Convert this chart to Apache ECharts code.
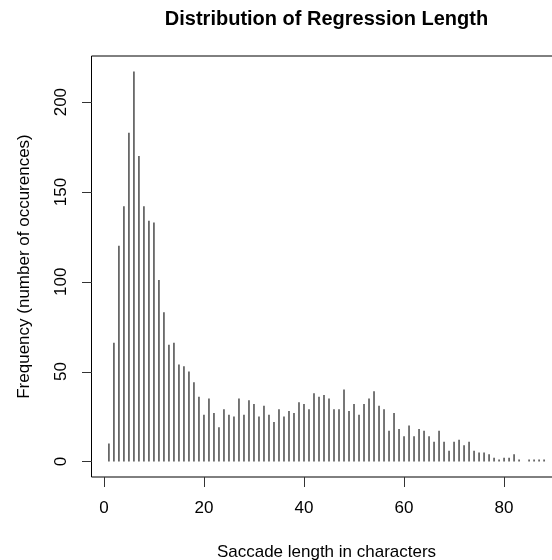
<!DOCTYPE html>
<html>
<head>
<meta charset="utf-8">
<script src="https://cdn.jsdelivr.net/npm/echarts@6/dist/echarts.min.js"></script>
<style>
html,body{margin:0;padding:0;background:#fff;}
#chart{width:552px;height:560px;}
</style>
</head>
<body>
<div id="chart"></div>
<script>
const lengths = [1,2,3,4,5,6,7,8,9,10,11,12,13,14,15,16,17,18,19,20,
  21,22,23,24,25,26,27,28,29,30,31,32,33,34,35,36,37,38,39,40,
  41,42,43,44,45,46,47,48,49,50,51,52,53,54,55,56,57,58,59,60,
  61,62,63,64,65,66,67,68,69,70,71,72,73,74,75,76,77,78,79,80,
  81,82,83,85,86,87,88];
const frequencies = [10,66,120,142,183,217,170,142,134,133,101,83,65,66,54,53,50,44,36,26,
  35,27,19,29,26,25,35,26,34,32,25,31,26,22,29,25,28,27,33,32,
  29,38,36,37,35,29,29,40,28,32,26,32,35,39,31,29,17,27,18,14,
  20,14,18,17,14,11,17,11,6,11,12,9,11,6,5,5,4,2,1,2,
  2,4,1,1,1,1,1];
const xTicks = [0,20,40,60,80];
const yTicks = [0,50,100,150,200];
const titleText = 'Distribution of Regression Length';
const xTitle = 'Saccade length in characters';
const yTitle = 'Frequency (number of occurences)';

const X_MIN = -2.48, X_MAX = 91.48, Y_MIN = -8.68, Y_MAX = 225.68;
const GRID = {left: 91.5, top: 56, right: -9.5, bottom: 83};
const W = 552, H = 560;
const TICK_LEN = 10;
const FONT = "'Liberation Sans', Arial, Helvetica, sans-serif";
const chart = echarts.init(document.getElementById('chart'), null, {renderer:'canvas', width: W, height: H});

function toPxX(v) {
  let r;
  try { r = chart.convertToPixel({xAxisIndex: 0}, v); } catch (e) { r = NaN; }
  if (Array.isArray(r)) r = r[0];
  if (!isFinite(r)) {
    const w = W - GRID.left - GRID.right;
    r = GRID.left + (v - X_MIN) / (X_MAX - X_MIN) * w;
  }
  return r;
}
function toPxY(v) {
  let r;
  try { r = chart.convertToPixel({yAxisIndex: 0}, v); } catch (e) { r = NaN; }
  if (Array.isArray(r)) r = r[1];
  if (!isFinite(r)) {
    const h = H - GRID.top - GRID.bottom;
    r = GRID.top + (Y_MAX - v) / (Y_MAX - Y_MIN) * h;
  }
  return r;
}

chart.setOption({
  animation: false,
  backgroundColor: '#fff',
  title: {
    text: titleText, left: 326.5, top: 9, padding: 0, textAlign: 'center',
    textStyle: {fontFamily: FONT, fontWeight: 'bold', fontSize: 20, color: '#000'}
  },
  grid: Object.assign({show: true, borderColor: '#000', borderWidth: 1,
         backgroundColor: 'transparent', outerBoundsMode: 'none', containLabel: false}, GRID),
  xAxis: {
    type: 'value', min: X_MIN, max: X_MAX,
    name: xTitle, nameLocation: 'middle', nameGap: 67,
    nameTextStyle: {fontFamily: FONT, fontSize: 17, color: '#000'},
    axisLine: {show: false, onZero: false},
    splitLine: {show: false},
    axisTick: {show: false},
    axisLabel: {show: true, customValues: xTicks, margin: 23, fontFamily: FONT, fontSize: 17, color: '#000'}
  },
  yAxis: {
    type: 'value', min: Y_MIN, max: Y_MAX,
    name: yTitle, nameLocation: 'middle', nameGap: 59, nameRotate: 90,
    nameTextStyle: {fontFamily: FONT, fontSize: 17, color: '#000'},
    axisLine: {show: false, onZero: false},
    splitLine: {show: false},
    axisTick: {show: false},
    axisLabel: {customValues: yTicks, rotate: 90, margin: 22, fontFamily: FONT, fontSize: 17, color: '#000'}
  },
  series: [{
    type: 'bar',
    data: lengths.map((x, i) => [x, frequencies[i]]),
    barWidth: 1.6,
    itemStyle: {color: '#555'},
    silent: true
  }]
});

// Tick marks (axis decoration) as thin filled rects, placed through the chart's axes
try {
  const base = Math.round(toPxY(Y_MIN));
  const leftEdge = Math.round(toPxX(X_MIN));
  const tickEls = [];
  xTicks.forEach(v => {
    const x = Math.round(toPxX(v));
    tickEls.push({type: 'rect', z: 100, left: x, top: base,
      shape: {width: 1, height: TICK_LEN},
      style: {fill: '#333'}});
  });
  yTicks.forEach(v => {
    const y = Math.round(toPxY(v));
    tickEls.push({type: 'rect', z: 100, left: leftEdge - TICK_LEN, top: y,
      shape: {width: TICK_LEN, height: 1},
      style: {fill: '#333'}});
  });
  chart.setOption({graphic: {elements: tickEls}});
} catch (e) { console.error(e); }
</script>
</body>
</html>
